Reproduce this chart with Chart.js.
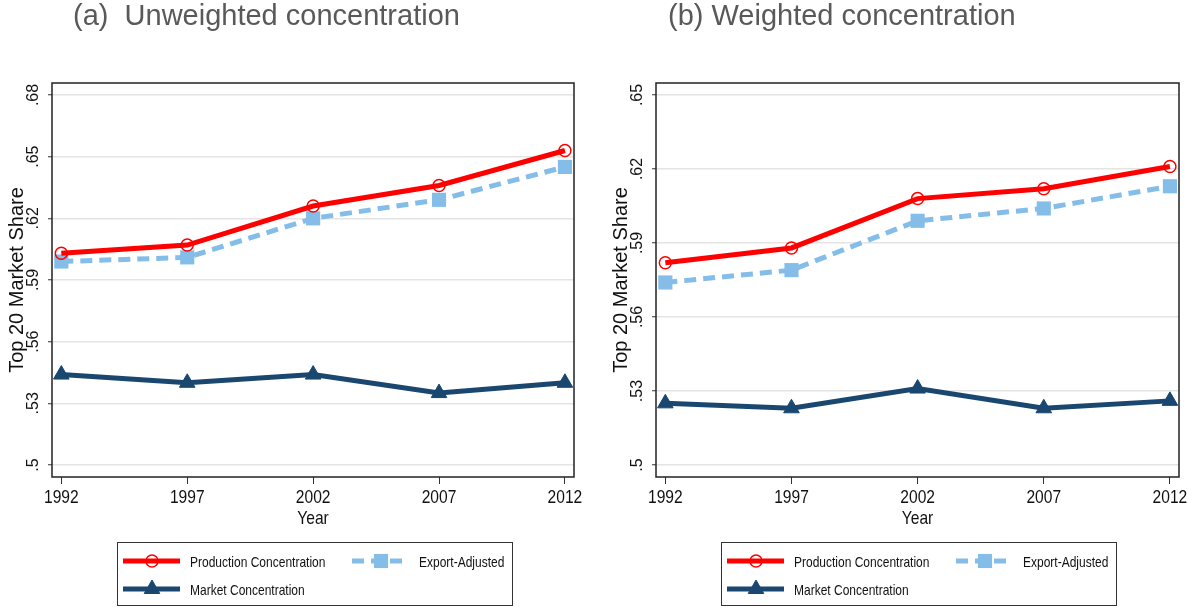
<!DOCTYPE html>
<html>
<head>
<meta charset="utf-8">
<script src="https://cdn.jsdelivr.net/npm/chart.js@4.4.1/dist/chart.umd.min.js"></script>
<style>
  html, body { margin: 0; padding: 0; background: #fff; }
  #wrap { position: relative; width: 1189px; height: 607px; }
  canvas { position: absolute; top: 0; }
</style>
</head>
<body>
<div id="wrap">
  <canvas id="panelA" width="595" height="607" style="left:0"></canvas>
  <canvas id="panelB" width="585" height="607" style="left:604px"></canvas>
</div>
<script>
const years = [1992, 1997, 2002, 2007, 2012];

// (a) unweighted top-20 shares
const prodUnweighted = [0.603, 0.607, 0.626, 0.636, 0.653];
const exportUnweighted = [0.599, 0.601, 0.620, 0.629, 0.645];
const marketUnweighted = [0.544, 0.540, 0.544, 0.535, 0.540];

// (b) weighted top-20 shares
const prodWeighted = [0.582, 0.588, 0.608, 0.612, 0.621];
const exportWeighted = [0.574, 0.579, 0.599, 0.604, 0.613];
const marketWeighted = [0.525, 0.523, 0.531, 0.523, 0.526];

const ticksUnweighted = [0.5, 0.53, 0.56, 0.59, 0.62, 0.65, 0.68];
const ticksWeighted = [0.5, 0.53, 0.56, 0.59, 0.62, 0.65];

const sans = "'Liberation Sans', Arial, sans-serif";

const RED = '#ff0000';
const LTBLUE = '#85bde9';
const NAVY = '#1a476f';

function points(vals) {
  return years.map((yr, i) => ({ x: yr, y: vals[i] }));
}

// tall, condensed text (squeezed horizontally)
function narrowText(ctx, text, x, y, size, squeeze, align) {
  ctx.save();
  ctx.font = size + 'px ' + sans;
  ctx.textAlign = align;
  ctx.textBaseline = 'alphabetic';
  ctx.translate(x, y);
  ctx.scale(squeeze, 1);
  ctx.fillText(text, 0, 0);
  ctx.restore();
}

function drawMarker(ctx, d, x, y) {
  const r = d.pointRadius;
  ctx.save();
  ctx.fillStyle = d.pointBackgroundColor;
  ctx.strokeStyle = d.pointBorderColor;
  ctx.lineWidth = d.pointBorderWidth;
  ctx.beginPath();
  if (d.pointStyle === 'circle') {
    ctx.arc(x, y, r, 0, Math.PI * 2);
  } else if (d.pointStyle === 'rect') {
    const s = r * Math.SQRT1_2;
    ctx.rect(x - s, y - s, 2 * s, 2 * s);
  } else {
    ctx.moveTo(x, y - r);
    ctx.lineTo(x + r * Math.sin(2 * Math.PI / 3), y + r / 2);
    ctx.lineTo(x - r * Math.sin(2 * Math.PI / 3), y + r / 2);
    ctx.closePath();
  }
  ctx.fill();
  if (d.pointBorderWidth > 0) ctx.stroke();
  ctx.restore();
}

// panel heading, outer frame, axis labels and boxed legend
const decorations = {
  id: 'decorations',
  afterDraw(chart, args, opts) {
    const { ctx, chartArea } = chart;
    const ys = chart.scales.y;
    const xs = chart.scales.x;
    ctx.save();

    ctx.fillStyle = '#595959';
    ctx.font = '29px ' + sans;
    ctx.textBaseline = 'alphabetic';
    ctx.textAlign = 'left';
    ctx.fillText(opts.title, opts.titleX, 25);

    ctx.strokeStyle = '#222';
    ctx.lineWidth = 1.5;
    ctx.strokeRect(chartArea.left, chartArea.top, chartArea.right - chartArea.left, chartArea.bottom - chartArea.top);

    ctx.fillStyle = '#111';
    ctx.font = '16px ' + sans;
    ctx.textAlign = 'center';
    ctx.textBaseline = 'middle';
    ys.ticks.forEach(t => {
      const py = ys.getPixelForValue(t.value);
      ctx.save();
      ctx.translate(chartArea.left - 18, py);
      ctx.rotate(-Math.PI / 2);
      ctx.fillText(String(+t.value.toFixed(2)).replace(/^0/, ''), 0, 0);
      ctx.restore();
    });

    xs.ticks.forEach(t => {
      narrowText(ctx, String(t.value), xs.getPixelForValue(t.value), chartArea.bottom + 26, 19, 0.82, 'center');
    });
    narrowText(ctx, 'Year', (chartArea.left + chartArea.right) / 2, chartArea.bottom + 47, 19, 0.82, 'center');

    const x0 = chartArea.left + 65, y0 = 542, w = 395, h = 63;
    ctx.strokeStyle = '#333';
    ctx.lineWidth = 1;
    ctx.strokeRect(x0 + 0.5, y0 + 0.5, w, h);
    const slots = [[6, 19], [235, 19], [6, 47]];
    chart.data.datasets.forEach((d, i) => {
      const sx = x0 + slots[i][0], sy = y0 + slots[i][1];
      ctx.strokeStyle = d.borderColor;
      ctx.lineWidth = d.borderWidth;
      ctx.setLineDash(d.borderDash || []);
      ctx.beginPath();
      ctx.moveTo(sx, sy);
      ctx.lineTo(sx + 57, sy);
      ctx.stroke();
      ctx.setLineDash([]);
      drawMarker(ctx, d, sx + 29, sy);
      ctx.fillStyle = '#111';
      narrowText(ctx, d.label, sx + 67, sy + 5.5, 15, 0.8, 'left');
    });
    ctx.restore();
  }
};

function makePanel(id, title, titleX, prod, exp, mkt, yTicks, yMin, yMax, padRight) {
  return new Chart(document.getElementById(id), {
    type: 'line',
    data: {
      datasets: [
        {
          label: 'Production Concentration',
          data: points(prod),
          borderColor: RED,
          borderWidth: 5,
          pointStyle: 'circle',
          pointRadius: 6,
          pointBackgroundColor: 'rgba(0,0,0,0)',
          pointBorderColor: RED,
          pointBorderWidth: 1.5
        },
        {
          label: 'Export-Adjusted',
          data: points(exp),
          borderColor: LTBLUE,
          borderWidth: 5,
          borderDash: [12, 7],
          pointStyle: 'rect',
          pointRadius: 10,
          pointBackgroundColor: LTBLUE,
          pointBorderColor: LTBLUE,
          pointBorderWidth: 0
        },
        {
          label: 'Market Concentration',
          data: points(mkt),
          borderColor: NAVY,
          borderWidth: 5,
          pointStyle: 'triangle',
          pointRadius: 9,
          pointBackgroundColor: NAVY,
          pointBorderColor: NAVY,
          pointBorderWidth: 1
        }
      ]
    },
    options: {
      responsive: false,
      animation: false,
      events: [],
      layout: { padding: { left: 0, top: 83, right: padRight, bottom: 80 } },
      elements: { line: { tension: 0 } },
      plugins: {
        legend: { display: false },
        tooltip: { enabled: false },
        decorations: { title, titleX }
      },
      scales: {
        x: {
          type: 'linear',
          min: 1991.63,
          max: 2012.36,
          afterBuildTicks: s => { s.ticks = years.map(v => ({ value: v })); },
          afterFit: s => { s.height = 50; },
          grid: { drawOnChartArea: false, drawTicks: true, tickLength: 7, tickColor: '#333', tickWidth: 1 },
          border: { display: false },
          ticks: { display: false }
        },
        y: {
          type: 'linear',
          min: yMin,
          max: yMax,
          afterBuildTicks: s => { s.ticks = yTicks.map(v => ({ value: v })); },
          afterFit: s => { s.width = 52; },
          grid: { color: '#e4e4e4', lineWidth: 1.5, drawTicks: true, tickLength: 4, tickColor: '#333', tickWidth: 1 },
          border: { display: false },
          ticks: { display: false },
          title: {
            display: true,
            text: 'Top 20 Market Share',
            font: { family: sans, size: 20 },
            color: '#111',
            padding: { top: 5 }
          }
        }
      }
    },
    plugins: [decorations]
  });
}

makePanel('panelA', '(a)  Unweighted concentration', 73,
  prodUnweighted, exportUnweighted, marketUnweighted, ticksUnweighted, 0.49417, 0.68583, 21);
makePanel('panelB', '(b) Weighted concentration', 64,
  prodWeighted, exportWeighted, marketWeighted, ticksWeighted, 0.49514, 0.65486, 10);
</script>
</body>
</html>
